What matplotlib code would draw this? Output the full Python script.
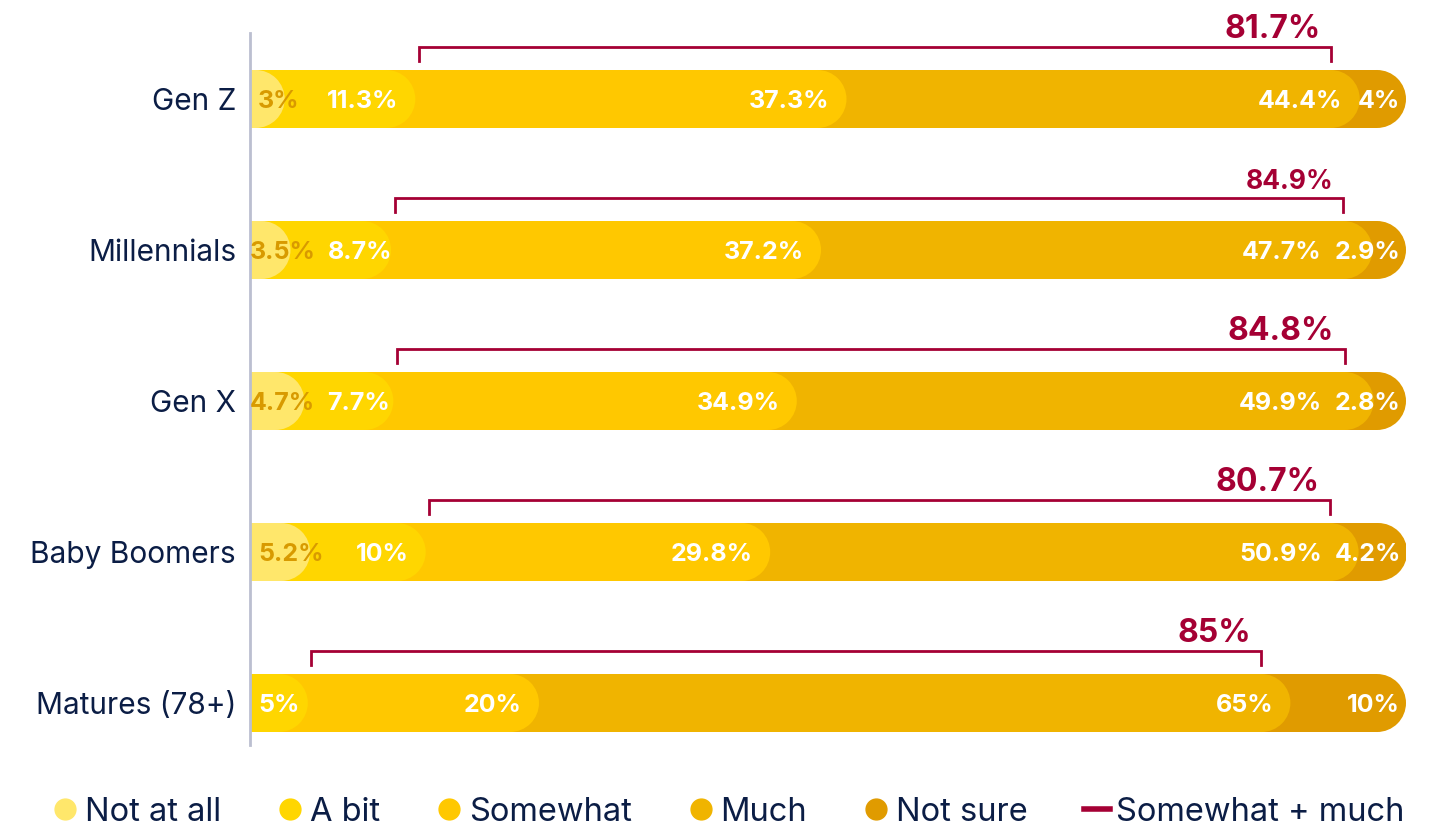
import numpy as np
import matplotlib.pyplot as plt
from matplotlib.patches import Ellipse
from matplotlib.lines import Line2D

plt.rcParams['font.family'] = ['Inter', 'DejaVu Sans']

# data
groups = ["Gen Z", "Millennials", "Gen X", "Baby Boomers", "Matures (78+)"]
series_names = ["Not at all", "A bit", "Somewhat", "Much", "Not sure"]
not_at_all = [3, 3.5, 4.7, 5.2, 0]
a_bit = [11.3, 8.7, 7.7, 10, 5]
somewhat = [37.3, 37.2, 34.9, 29.8, 20]
much = [44.4, 47.7, 49.9, 50.9, 65]
not_sure = [4, 2.9, 2.8, 4.2, 10]
somewhat_much = [81.7, 84.9, 84.8, 80.7, 85]

# styles
colors = ["#FFE76B", "#FFD600", "#FFC800", "#F0B400", "#E09B00"]
label_colors = ["#D89A00", "white", "white", "white", "white"]
crimson = "#A50034"
navy = "#0B1D45"
bracket_sizes = [23, 19, 23, 23, 23]

data = np.array([not_at_all, a_bit, somewhat, much, not_sure])
cum = data.cumsum(axis=0)
start = cum - data

fig = plt.figure(figsize=(14.4, 8.3), dpi=100)
ax = fig.add_axes([250 / 1440, 1 - 745 / 830, 1156 / 1440, 712 / 830])
ax.set_xlim(0, 100)
ax.set_ylim(4.278, -0.437)
y = np.arange(len(groups))
bar_h = 0.384

# radius of the rounded right end, in x data units (so it looks circular)
px_x = 1156 / 100
px_y = 712 / (4.278 + 0.437)
rx = bar_h * px_y / 2 / px_x

# draw from the longest cumulative bar down to the shortest
for k in range(len(series_names) - 1, -1, -1):
    mask = data[k] > 0
    ax.barh(y[mask], cum[k][mask] - rx, left=0, height=bar_h, color=colors[k], linewidth=0)
    for yi, c in zip(y[mask], cum[k][mask]):
        ax.add_patch(Ellipse((c - rx, yi), 2 * rx, bar_h, color=colors[k], linewidth=0))

# value labels
rows = []
for i in range(len(groups)):
    items = []
    idx = [k for k in range(len(series_names)) if data[k, i] > 0]
    for n, k in enumerate(idx):
        t = ax.text(0, y[i], f"{data[k, i]:g}%", fontsize=18, fontweight='bold',
                    color=label_colors[k], ha='left', va='center_baseline')
        if n == 0:
            want = ('left', 0.7)
        elif n == len(idx) - 1:
            want = ('right', cum[k, i] - 0.5)
        else:
            want = ('right', cum[k, i] - 1.5)
        items.append([t, want])
    rows.append(items)

fig.canvas.draw()
r = fig.canvas.get_renderer()
for items in rows:
    lefts, widths = [], []
    for t, (side, x) in items:
        w = t.get_window_extent(r).width / px_x
        widths.append(w)
        lefts.append(x if side == 'left' else x - w)
    # push forward (all but the last)
    for n in range(1, len(items) - 1):
        if lefts[n] < lefts[n - 1] + widths[n - 1] + 0.35:
            lefts[n] = lefts[n - 1] + widths[n - 1] + 0.35
    # push back from the last
    for n in range(len(items) - 2, -1, -1):
        if lefts[n] + widths[n] > lefts[n + 1] - 1.1:
            lefts[n] = lefts[n + 1] - 1.1 - widths[n]
    for (t, _), lx in zip(items, lefts):
        t.set_x(lx)

# brackets for somewhat + much
for i in range(len(groups)):
    left = start[2, i] + 0.3
    right = cum[3, i] - rx
    top = y[i] - 0.344
    ax.plot([left, left, right, right], [y[i] - 0.25, top, top, y[i] - 0.25],
            color=crimson, lw=2, solid_joinstyle='miter')
    ax.text(right - 0.9, top - 0.06, f"{somewhat_much[i]:g}%", fontsize=bracket_sizes[i],
            fontweight='bold', color=crimson, ha='right', va='baseline')

ax.set_yticks(y, groups, fontsize=21.5, color=navy)
ax.tick_params(axis='y', length=0, pad=10)
ax.set_xticks([])
for s in ['top', 'right', 'bottom']:
    ax.spines[s].set_visible(False)
ax.spines['left'].set_color('#BBBFD0')
ax.spines['left'].set_linewidth(2)

handles = [Line2D([], [], marker='o', linestyle='none', markersize=15,
                  markerfacecolor=c, markeredgecolor=c) for c in colors]
handles.append(Line2D([], [], color=crimson, lw=4))
fig.legend(handles, series_names + ["Somewhat + much"], loc='center', ncol=6,
           bbox_to_anchor=(0.506, 18 / 830), frameon=False, fontsize=23.5,
           labelcolor=navy, handlelength=0.8, handletextpad=0.2, columnspacing=1.72)

plt.savefig("out.png", dpi=100)
